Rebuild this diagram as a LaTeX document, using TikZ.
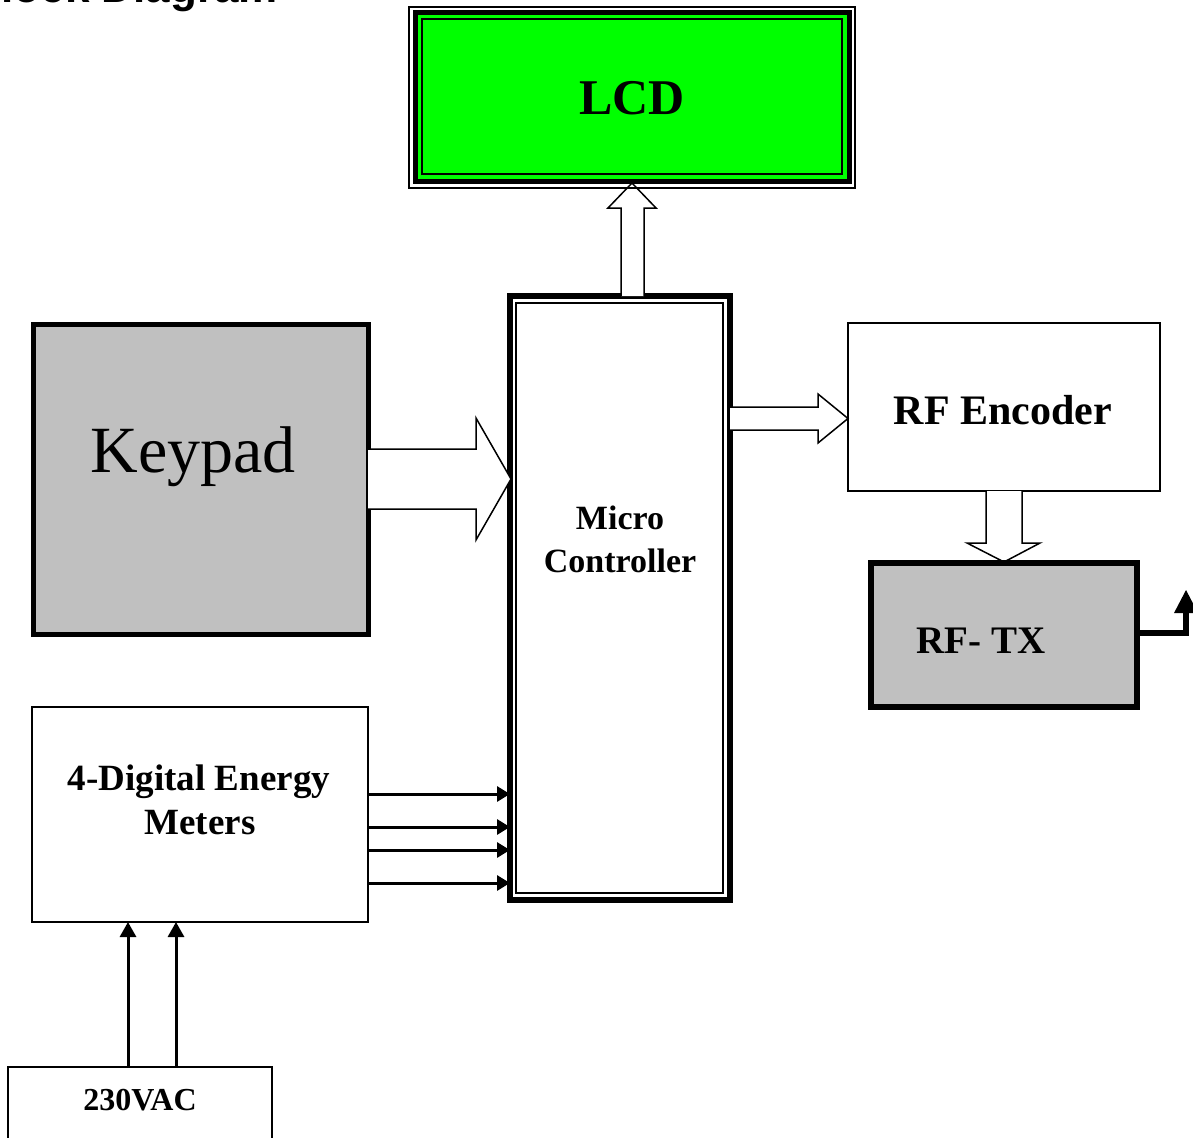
\documentclass[tikz,border=0pt]{standalone}
\usepackage{fontspec}
\setmainfont{Liberation Serif}
\newfontfamily\titlesans{Liberation Sans}
\usetikzlibrary{arrows.meta}
\definecolor{lcdgreen}{RGB}{0,255,0}
\definecolor{boxgray}{RGB}{192,192,192}
\newcommand{\fs}[1]{\fontsize{#1}{#1}\selectfont}
\tikzset{
  blk/.style={draw=black, inner sep=0pt, outer sep=0pt},
  thinbox/.style={blk, line width=1.5pt, fill=white},
  thickbox/.style={blk, line width=6pt},
  lbl/.style={inner sep=0pt, anchor=base, font=\bfseries\fs{#1}},
  hollow/.style={draw=black, fill=white, line width=1.5pt, line join=miter},
  sig/.style={line width=3pt, -{Triangle[length=13pt,width=15pt]}},
  pwr/.style={line width=3pt, -{Triangle[length=15pt,width=16pt]}},
}
\begin{document}
\begin{tikzpicture}[x=1pt,y=-1pt]
\useasboundingbox (0,0) rectangle (1193,1137);
\fill[white] (0,0) rectangle (1193,1137);

% title (cut off at top, as in the reference)
\node[inner sep=0pt, anchor=base east, font=\titlesans\bfseries\fs{44}] (title) at (278,3) {Block Diagram};

% Micro controller
\node[thickbox, fill=white, minimum width=220pt, minimum height=604pt] (mc) at (620,598) {};
\node[blk, line width=2pt, minimum width=207pt, minimum height=589.5pt] (mcin) at (619.5,597.75) {};
\node[lbl=34] (mct1) at (620,529) {Micro};
\node[lbl=34] (mct2) at (620,572) {Controller};

% arrow MC -> LCD (drawn below the LCD frame)
\draw[hollow] (621,296) -- (621,208) -- (608,208) -- (632,183) -- (656,208) -- (644,208) -- (644,296);

% LCD
\node[blk, line width=1.5pt, minimum width=446pt, minimum height=181pt] (lcdo) at (632,97.5) {};
\node[blk, line width=5pt, fill=lcdgreen, minimum width=434.5pt, minimum height=168.5pt] (lcd) at (632.25,96.75) {};
\node[blk, line width=2pt, minimum width=419.5pt, minimum height=154.5pt] (lcdin) at (631.75,96.75) {};
\node[lbl=50] (lcdt) at (632,115) {LCD};

% Keypad
\node[blk, line width=5pt, fill=boxgray, minimum width=335pt, minimum height=310pt] (kp) at (200.5,479) {};
\node[inner sep=0pt, anchor=base, font=\fs{66}] (kpt) at (193,472) {Keypad};

% RF encoder
\node[thinbox, minimum width=312pt, minimum height=168pt] (enc) at (1004,407) {};
\node[lbl=42] (enct) at (1003,424) {RF Encoder};

% arrow encoder -> RF TX
\draw[hollow] (986,491) -- (986,543) -- (967,543) -- (1004,562) -- (1040,543) -- (1022,543) -- (1022,491);

% RF TX
\node[thickbox, fill=boxgray, minimum width=266pt, minimum height=144pt] (tx) at (1004,635) {};
\node[lbl=39] (txt) at (981,653) {RF- TX};
\coordinate (ant) at (1186,613);
\draw[line width=6pt, line join=miter] (tx.east |- 0,633) -| (ant);
\fill (1174,613) -- (1186,590) -- (1198,613) -- cycle;

% Keypad -> MC
\draw[hollow] (kp.east |- 0,449) -- (476,449) -- (476,418) -- (511,479) -- (476,540) -- (476,509) -- (kp.east |- 0,509);

% MC -> encoder
\draw[hollow] (mc.east |- 0,407) -- (818,407) -- (818,394) -- (enc.west |- 0,418.5) -- (818,443) -- (818,430) -- (mc.east |- 0,430);

% Energy meters
\node[thinbox, minimum width=336pt, minimum height=215pt] (em) at (200,814.5) {};
\node[lbl=37] (emt1) at (199,790) {4-Digital Energy};
\node[lbl=37] (emt2) at (200,834) {Meters};
\foreach \yy in {794,827,850,883}
  \draw[sig] (em.east |- 0,\yy) -- (mc.west |- 0,\yy);

% 230VAC
\node[thinbox, minimum width=264pt, minimum height=93pt] (ac) at (140,1113.5) {};
\node[lbl=32] (act) at (140,1110) {230VAC};
\foreach \xx in {128,176}
  \draw[pwr] (ac.north -| \xx,0) -- (em.south -| \xx,0);
\end{tikzpicture}
\end{document}
